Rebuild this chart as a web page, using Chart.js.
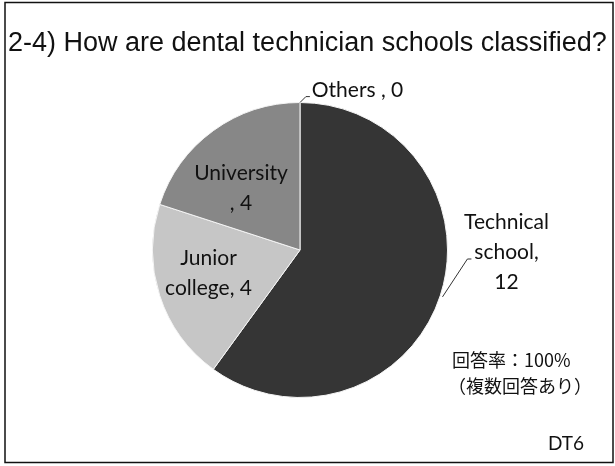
<!DOCTYPE html>
<html>
<head>
<meta charset="utf-8">
<script src="https://cdn.jsdelivr.net/npm/chart.js@4"></script>
<style>
  html, body { margin: 0; padding: 0; background: #fff; }
  #wrap { width: 615px; height: 466px; }
</style>
</head>
<body>
<div id="wrap"><canvas id="schoolChart" width="615" height="466"></canvas></div>
<script>
const categories = ['Technical school', 'Junior college', 'University', 'Others'];
const counts = [12, 4, 4, 0];
const sliceColors = ['#353535', '#c6c6c6', '#878787', '#5a5a5a'];
const titleText = '2-4) How are dental technician schools classified?';
const noteLines = ['回答率：100%', '（複数回答あり）'];
const tagText = 'DT6';

// label text per slice, and where it sits relative to the pie (in radii)
const sliceLabels = [
    { lines: ['Technical', 'school,', String(counts[0])], dx: 1.40, dy: 0.014, leader: [[0.966, 0.318], [1.135, 0.061]] },
    { lines: ['Junior', 'college, ' + counts[1]], dx: -0.62, dy: 0.155 },
    { lines: ['University', ', ' + counts[2]], dx: -0.40, dy: -0.42 },
    { lines: ['Others , ' + counts[3]], dx: 0.08, dy: -1.08, align: 'left', leader: [[0.0, -1.0], [0.04, -1.04]] }
];

const decorPlugin = {
    id: 'decor',
    afterDraw(chart) {
        const c = chart.ctx;
        const arc = chart.getDatasetMeta(0).data[0];
        const cx = arc.x, cy = arc.y, r = arc.outerRadius;

        c.save();
        // outer frame
        c.strokeStyle = '#111';
        c.lineWidth = 1.5;
        c.strokeRect(5, 2.5, 608, 460);

        // title
        c.fillStyle = '#111';
        c.font = '27px "Liberation Sans", Arial, sans-serif';
        c.textAlign = 'left';
        c.textBaseline = 'alphabetic';
        c.fillText(titleText, 8, 51, 604);

        // slice labels
        c.font = '21px Lato, "Liberation Sans", sans-serif';
        c.textBaseline = 'middle';
        const lh = 30;
        sliceLabels.forEach(lab => {
            const x = cx + lab.dx * r;
            const y0 = cy + lab.dy * r - (lab.lines.length - 1) * lh / 2;
            c.textAlign = lab.align || 'center';
            lab.lines.forEach((t, i) => c.fillText(t, x, y0 + i * lh));
            if (lab.leader) {
                c.strokeStyle = '#333';
                c.lineWidth = 1;
                c.beginPath();
                c.moveTo(cx + lab.leader[0][0] * r, cy + lab.leader[0][1] * r);
                c.lineTo(cx + lab.leader[1][0] * r, cy + lab.leader[1][1] * r);
                c.lineTo(cx + lab.leader[1][0] * r + 4, cy + lab.leader[1][1] * r);
                c.stroke();
            }
        });

        // response note and tag
        c.font = '18px "Noto Sans CJK JP", sans-serif';
        c.textAlign = 'left';
        c.fillText(noteLines[0], 452, 360);
        c.fillText(noteLines[1], 448, 386);
        c.font = '19px Lato, "Liberation Sans", sans-serif';
        c.fillText(tagText, 548, 444);
        c.restore();
    }
};

new Chart(document.getElementById('schoolChart'), {
    type: 'pie',
    data: {
        labels: categories,
        datasets: [{
            data: counts,
            backgroundColor: sliceColors,
            borderColor: '#f4f4f4',
            borderWidth: 1
        }]
    },
    options: {
        responsive: false,
        animation: false,
        layout: { padding: { left: 152, right: 167, top: 102, bottom: 68 } },
        plugins: {
            legend: { display: false },
            tooltip: { enabled: false },
            title: { display: false }
        }
    },
    plugins: [decorPlugin]
});
</script>
</body>
</html>
